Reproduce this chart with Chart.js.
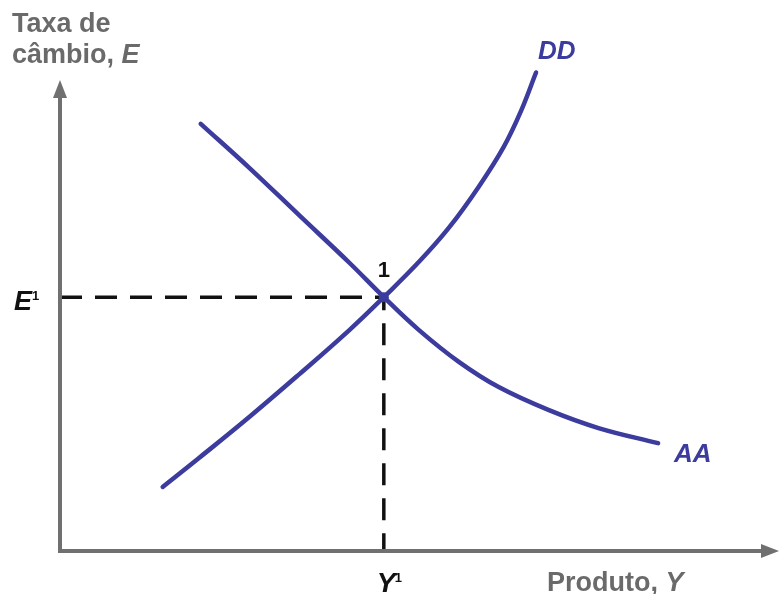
<!DOCTYPE html>
<html>
<head>
<meta charset="utf-8">
<script src="https://cdn.jsdelivr.net/npm/chart.js@4/dist/chart.umd.min.js"></script>
<style>
  html, body { margin: 0; padding: 0; background: #ffffff; }
  #wrap { width: 783px; height: 594px; position: relative; }
</style>
</head>
<body>
<div id="wrap"><canvas id="c" width="783" height="594"></canvas></div>
<script>
// Curve AA (x = Produto, y = Taxa de câmbio)
const aaX = [19.6, 26.4, 33.3, 40.3, 45.1, 50.0, 55.6, 61.1, 68.1, 75.0, 83.3];
const aaY = [90.7, 81.3, 71.3, 61.2, 53.9, 46.9, 40.1, 34.8, 29.9, 26.1, 22.9];
// Curve DD
const ddX = [14.3, 19.4, 26.4, 33.3, 40.3, 45.1, 50.0, 54.2, 58.3, 61.8, 64.2, 66.3];
const ddY = [13.6, 19.8, 28.5, 37.5, 46.9, 53.9, 61.4, 68.7, 77.3, 85.8, 93.4, 101.6];
// Equilibrium point 1
const eqY1 = 45.1;
const eqE1 = 53.9;
// Texts
const yAxisTitle = ["Taxa de", "câmbio, "];
const yAxisVar = "E";
const xAxisTitle = "Produto, ";
const xAxisVar = "Y";
const curveNames = ["AA", "DD"];
const pointLabel = "1";

const curveColor = "#3c3b9e";
const axisColor = "#707070";

const toPts = (xs, ys) => xs.map((x, i) => ({ x: x, y: ys[i] }));

const axesPlugin = {
  id: "axesPlugin",
  afterDatasetsDraw(chart) {
    const { ctx, chartArea, scales } = chart;
    const x0 = scales.x.getPixelForValue(0);
    const y0 = scales.y.getPixelForValue(0);
    ctx.save();
    // axes
    ctx.strokeStyle = axisColor;
    ctx.fillStyle = axisColor;
    ctx.lineWidth = 4;
    ctx.lineCap = "butt";
    ctx.beginPath();
    ctx.moveTo(x0, y0 + 2);
    ctx.lineTo(x0, chartArea.top + 14);
    ctx.moveTo(x0 - 2, y0);
    ctx.lineTo(chartArea.right - 14, y0);
    ctx.stroke();
    // arrow heads
    ctx.beginPath();
    ctx.moveTo(x0, chartArea.top);
    ctx.lineTo(x0 - 7, chartArea.top + 18);
    ctx.lineTo(x0 + 7, chartArea.top + 18);
    ctx.closePath();
    ctx.fill();
    ctx.beginPath();
    ctx.moveTo(chartArea.right + 1, y0);
    ctx.lineTo(chartArea.right - 17, y0 - 7);
    ctx.lineTo(chartArea.right - 17, y0 + 7);
    ctx.closePath();
    ctx.fill();

    // axis titles
    ctx.fillStyle = "#6a6a6a";
    ctx.textBaseline = "alphabetic";
    ctx.textAlign = "left";
    ctx.font = "bold 27px 'Liberation Sans', Arial, sans-serif";
    ctx.fillText(yAxisTitle[0], 12, 32);
    ctx.fillText(yAxisTitle[1], 12, 63);
    let w = ctx.measureText(yAxisTitle[1]).width;
    ctx.font = "italic bold 27px 'Liberation Sans', Arial, sans-serif";
    ctx.fillText(yAxisVar, 12 + w, 63);

    ctx.font = "bold 27px 'Liberation Sans', Arial, sans-serif";
    ctx.fillText(xAxisTitle, 547, 591);
    w = ctx.measureText(xAxisTitle).width;
    ctx.font = "italic bold 27px 'Liberation Sans', Arial, sans-serif";
    ctx.fillText(xAxisVar, 547 + w, 591);

    // E1 and Y1 labels
    const pxE = scales.y.getPixelForValue(eqE1);
    const pxY = scales.x.getPixelForValue(eqY1);
    ctx.fillStyle = "#111111";
    ctx.font = "italic bold 27px 'Liberation Sans', Arial, sans-serif";
    ctx.fillText("E", 14, pxE + 13);
    ctx.font = "bold 13px 'Liberation Sans', Arial, sans-serif";
    ctx.fillText("1", 32, pxE + 3);
    ctx.font = "italic bold 28px 'Liberation Sans', Arial, sans-serif";
    ctx.fillText("Y", pxY - 7, 592);
    ctx.font = "bold 13px 'Liberation Sans', Arial, sans-serif";
    ctx.fillText("1", pxY + 11, 582);

    // point label
    ctx.textAlign = "center";
    ctx.font = "bold 22px 'Liberation Sans', Arial, sans-serif";
    ctx.fillText(pointLabel, pxY, pxE - 20);

    // curve names
    ctx.textAlign = "left";
    ctx.fillStyle = curveColor;
    ctx.font = "italic bold 26px 'Liberation Sans', Arial, sans-serif";
    ctx.fillText(curveNames[0], 674, 462);
    ctx.fillText(curveNames[1], 538, 59);
    ctx.restore();
  }
};

new Chart(document.getElementById("c"), {
  type: "scatter",
  data: {
    datasets: [
      {
        label: "E1/Y1",
        data: [{ x: 0, y: eqE1 }, { x: eqY1, y: eqE1 }, { x: eqY1, y: 0 }],
        showLine: true,
        borderColor: "#111111",
        borderWidth: 3.5,
        borderDash: [22, 13],
        pointRadius: 0,
        tension: 0,
        fill: false,
        order: 3
      },
      {
        label: curveNames[0],
        data: toPts(aaX, aaY),
        showLine: true,
        borderColor: curveColor,
        borderWidth: 4.5,
        borderCapStyle: "round",
        tension: 0.4,
        pointRadius: 0,
        fill: false,
        clip: false,
        order: 1
      },
      {
        label: curveNames[1],
        data: toPts(ddX, ddY),
        showLine: true,
        borderColor: curveColor,
        borderWidth: 4.5,
        borderCapStyle: "round",
        tension: 0.4,
        pointRadius: 0,
        fill: false,
        clip: false,
        order: 2
      },
      {
        label: "eq",
        data: [{ x: eqY1, y: eqE1 }],
        pointRadius: 5,
        pointBackgroundColor: curveColor,
        pointBorderWidth: 0,
        order: 0
      }
    ]
  },
  options: {
    responsive: false,
    animation: false,
    devicePixelRatio: 1,
    layout: { padding: { left: 60, right: 3, top: 80, bottom: 43 } },
    plugins: { legend: { display: false }, tooltip: { enabled: false }, title: { display: false } },
    scales: {
      x: { type: "linear", min: 0, max: 100, display: false },
      y: { type: "linear", min: 0, max: 100, display: false }
    }
  },
  plugins: [axesPlugin]
});
</script>
</body>
</html>
